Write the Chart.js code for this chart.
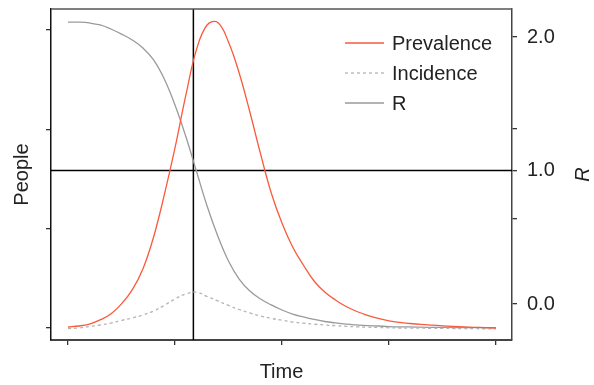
<!DOCTYPE html>
<html lang="en">
<head>
    <meta charset="UTF-8">
    <title>Prevalence, incidence and R over time</title>
    <script src="https://cdn.jsdelivr.net/npm/chart.js"></script>
    <style>
        * { margin: 0; padding: 0; box-sizing: border-box; }
        body { background: #fff; }
        .chart-box { position: relative; width: 594px; height: 385px; }
    </style>
</head>
<body>
    <div class="chart-box">
        <canvas id="sirChart"></canvas>
    </div>

    <script>
        // Time axis
        const times = [0, 2.5, 5, 7.5, 10, 12.5, 15, 17.5, 20, 22.5, 25, 27.5, 30, 32.5, 35, 37.5, 40,
            42.5, 45, 47.5, 50, 52.5, 55, 57.5, 60, 62.5, 65, 67.5, 70, 72.5, 75, 77.5, 80,
            82.5, 85, 87.5, 90, 92.5, 95, 97.5, 100];
        const timeTicks = [0, 25, 50, 75, 100];

        // People (left axis, unlabelled)
        const prevalence = [10, 20, 40, 81, 141, 242, 383, 594, 916, 1339, 1812, 2336, 2799, 3050, 3075,
            2879, 2567, 2174, 1752, 1359, 1057, 815, 634, 473, 362, 282, 216, 166, 128, 96, 72,
            56, 45, 36, 29, 22, 16, 11, 7, 4, 0];
        const incidence = [-5, 0, 15, 30, 50, 76, 101, 131, 171, 227, 292, 342, 360, 317, 272,
            227, 186, 151, 121, 96, 78, 60, 48, 38, 30, 23, 17, 12, 8, 5, 2,
            0, -1, -2, -3, -4, -5, -6, -7, -8, -8];
        const peopleTicks = [0, 1000, 2000, 3000];

        // R (right axis)
        const rValues = [2.112, 2.111, 2.105, 2.090, 2.060, 2.022, 1.978, 1.918, 1.828, 1.685, 1.491,
            1.258, 0.996, 0.734, 0.509, 0.322, 0.187, 0.097, 0.037, -0.007, -0.045, -0.075,
            -0.097, -0.116, -0.131, -0.142, -0.151, -0.157, -0.162, -0.165, -0.169, -0.171,
            -0.172, -0.174, -0.175, -0.175, -0.176, -0.177, -0.177, -0.178, -0.178];
        const rTicks = [0, 0.637, 1, 1.311, 2];
        const rLabels = [0, 1, 2];

        // reference lines
        const markTime = 29.3;
        const threshold = 1;

        const FONT = 'Liberation Sans, Helvetica, Arial, sans-serif';
        const INK = '#222';

        const toPoints = (ys) => ys.map((y, i) => ({ x: times[i], y: y }));
        const fixTicks = (list) => (scale) => { scale.ticks = list.map(v => ({ value: v })); };

        // vertical and horizontal reference lines + top border
        const refLines = {
            id: 'refLines',
            beforeDatasetsDraw(chart) {
                const { ctx, chartArea: a, scales } = chart;
                const x = scales.x.getPixelForValue(markTime);
                const y = scales.yR.getPixelForValue(threshold);
                ctx.save();
                ctx.strokeStyle = '#000';
                ctx.lineWidth = 1.5;
                ctx.beginPath();
                ctx.moveTo(x, a.top);
                ctx.lineTo(x, a.bottom);
                ctx.moveTo(a.left, y);
                ctx.lineTo(a.right, y);
                ctx.stroke();
                ctx.strokeStyle = '#555';
                ctx.beginPath();
                ctx.moveTo(a.left, a.top);
                ctx.lineTo(a.right, a.top);
                ctx.stroke();
                ctx.restore();
            }
        };

        // legend inside the plot, top right; R axis title reading bottom to top
        const innerLegend = {
            id: 'innerLegend',
            afterDatasetsDraw(chart) {
                const { ctx, chartArea: a } = chart;
                ctx.save();
                ctx.font = '20px ' + FONT;
                ctx.textBaseline = 'middle';
                chart.data.datasets.forEach((ds, i) => {
                    const y = a.top + 34 + i * 30;
                    ctx.strokeStyle = ds.borderColor;
                    ctx.lineWidth = ds.borderWidth;
                    ctx.setLineDash(ds.borderDash || []);
                    ctx.beginPath();
                    ctx.moveTo(a.right - 167, y);
                    ctx.lineTo(a.right - 128, y);
                    ctx.stroke();
                    ctx.setLineDash([]);
                    ctx.fillStyle = INK;
                    ctx.fillText(ds.label, a.right - 120, y + 1);
                });
                ctx.restore();

                ctx.save();
                ctx.translate(a.right + 71, (a.top + a.bottom) / 2);
                ctx.rotate(-Math.PI / 2);
                ctx.font = 'italic 20px ' + FONT;
                ctx.fillStyle = INK;
                ctx.textAlign = 'center';
                ctx.textBaseline = 'middle';
                ctx.fillText('R', 0, 0);
                ctx.restore();
            }
        };

        new Chart(document.getElementById('sirChart'), {
            type: 'line',
            data: {
                datasets: [{
                    label: 'Prevalence',
                    data: toPoints(prevalence),
                    yAxisID: 'y',
                    borderColor: '#fa5a3c',
                    borderWidth: 1.3
                }, {
                    label: 'Incidence',
                    data: toPoints(incidence),
                    yAxisID: 'y',
                    borderColor: '#b4b4b4',
                    borderWidth: 1.3,
                    borderDash: [3, 3]
                }, {
                    label: 'R',
                    data: toPoints(rValues),
                    yAxisID: 'yR',
                    borderColor: '#9a9a9a',
                    borderWidth: 1.3
                }]
            },
            options: {
                responsive: true,
                maintainAspectRatio: false,
                animation: false,
                events: [],
                layout: { padding: { top: 9, left: 0, right: 0, bottom: 0 } },
                elements: {
                    point: { radius: 0 },
                    line: { tension: 0.4, fill: false }
                },
                plugins: {
                    legend: { display: false },
                    tooltip: { enabled: false }
                },
                scales: {
                    x: {
                        type: 'linear',
                        min: -3.98,
                        max: 103.77,
                        afterBuildTicks: fixTicks(timeTicks),
                        afterFit: (s) => { s.height = 45; },
                        ticks: { callback: () => '', padding: 0 },
                        grid: { drawOnChartArea: false, tickLength: 5, color: '#333', lineWidth: 1.3 },
                        border: { color: '#444', width: 2 },
                        title: {
                            display: true, text: 'Time', color: INK,
                            font: { family: FONT, size: 20 }, padding: { top: 0, bottom: 1 }
                        }
                    },
                    y: {
                        position: 'left',
                        min: -121,
                        max: 3211,
                        afterBuildTicks: fixTicks(peopleTicks),
                        afterFit: (s) => { s.width = 51; },
                        ticks: { callback: () => '', padding: 0 },
                        grid: { drawOnChartArea: false, tickLength: 5, color: '#333', lineWidth: 1.3 },
                        border: { color: '#111', width: 1.5 },
                        title: {
                            display: true, text: 'People', color: INK,
                            font: { family: FONT, size: 20 }, padding: { top: 10, bottom: 0 }
                        }
                    },
                    yR: {
                        type: 'linear',
                        axis: 'y',
                        position: 'right',
                        min: -0.2697,
                        max: 2.2097,
                        afterBuildTicks: fixTicks(rTicks),
                        afterFit: (s) => { s.width = 82; s.paddingTop = 0; s.paddingBottom = 0; },
                        ticks: {
                            color: INK,
                            padding: 10,
                            font: { family: FONT, size: 20 },
                            callback: (v) => rLabels.includes(v) ? v.toFixed(1) : ''
                        },
                        grid: { drawOnChartArea: false, tickLength: 5, color: '#333', lineWidth: 1.3 },
                        border: { color: '#444', width: 1.5 },
                        title: { display: false }
                    }
                }
            },
            plugins: [refLines, innerLegend]
        });
    </script>
</body>
</html>
